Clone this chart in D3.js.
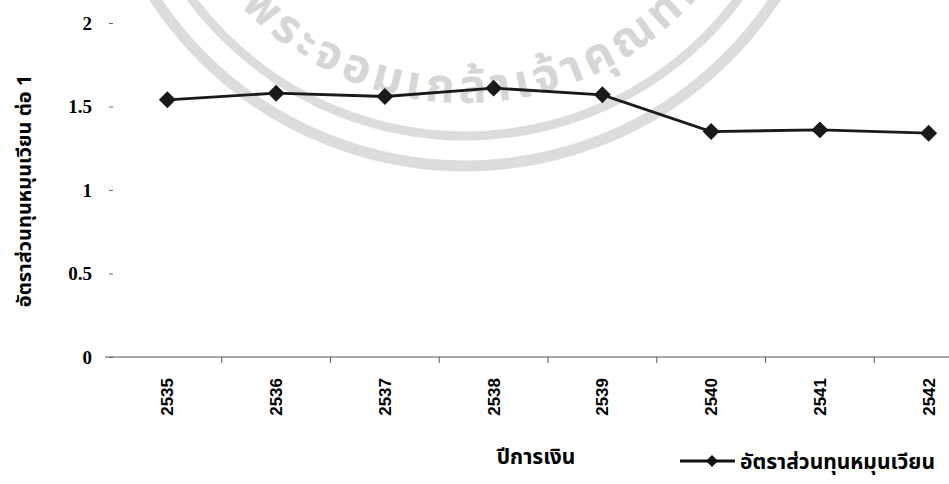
<!DOCTYPE html>
<html>
<head>
<meta charset="utf-8">
<script src="https://cdn.jsdelivr.net/npm/d3@7"></script>
<style>
 body { margin: 0; background: #fff; }
 svg { display: block; }
 .thai { font-family: "Noto Sans Thai", "Loma", "Garuda", "Tahoma", "DejaVu Sans", sans-serif; font-weight: bold; }
</style>
</head>
<body>
<div id="chart"></div>
<script>
// data
const years = ["2535", "2536", "2537", "2538", "2539", "2540", "2541", "2542"];
const ratio = [1.54, 1.58, 1.56, 1.61, 1.57, 1.35, 1.36, 1.34];
const yTicks = [0, 0.5, 1, 1.5, 2];
const seriesName = "อัตราส่วนทุนหมุนเวียน";
const yTitle = "อัตราส่วนทุนหมุนเวียน ต่อ 1";
const xTitle = "ปีการเงิน";
const sealText = "พระจอมเกล้าเจ้าคุณทหารลาดกระบัง";

const width = 949, height = 484;

const svg = d3.select("#chart").append("svg")
 .attr("width", width)
 .attr("height", height);

// faint seal watermark behind the plot
const wm = svg.append("g").attr("class", "watermark");
const cx = 465, cy = -205;
wm.append("circle").attr("cx", cx).attr("cy", cy).attr("r", 371)
 .attr("fill", "none").attr("stroke", "#dcdcdc").attr("stroke-width", 11);
wm.append("circle").attr("cx", cx).attr("cy", cy).attr("r", 341)
 .attr("fill", "none").attr("stroke", "#dcdcdc").attr("stroke-width", 9);
const tr = 308;
const a0 = Math.PI * 0.76, a1 = Math.PI * 0.05;
wm.append("path").attr("id", "wmArc").attr("fill", "none")
 .attr("d", `M${cx + tr * Math.cos(a0)},${cy + tr * Math.sin(a0)} A${tr},${tr} 0 0 0 ${cx + tr * Math.cos(a1)},${cy + tr * Math.sin(a1)}`);
wm.append("text").attr("class", "thai")
 .attr("fill", "#d6d6d6")
 .style("font-size", "47px")
 .style("letter-spacing", "5px")
 .append("textPath").attr("href", "#wmArc")
 .text(sealText);

// scales
const x = d3.scaleBand().domain(years).range([113, 983]).padding(0);
const y = d3.scaleLinear().domain([0, 2]).range([357, 23]);

// x axis line and ticks between categories
svg.append("line")
 .attr("x1", 105).attr("x2", width)
 .attr("y1", y(0)).attr("y2", y(0))
 .attr("stroke", "#555").attr("stroke-width", 1.2);

svg.append("g").selectAll("line")
 .data(years.slice(1))
 .join("line")
 .attr("x1", d => x(d)).attr("x2", d => x(d))
 .attr("y1", y(0)).attr("y2", y(0) + 6)
 .attr("stroke", "#555");

svg.append("g").selectAll("text")
 .data(years)
 .join("text")
 .attr("transform", d => `translate(${x(d) + x.bandwidth() / 2 + 6},378) rotate(-90)`)
 .attr("text-anchor", "end")
 .style("font-family", "'Liberation Sans', Arial, sans-serif")
 .style("font-weight", "bold")
 .style("font-size", "17px")
 .text(d => d);

// y axis: ticks + labels, no spine
const yAxis = svg.append("g")
 .attr("transform", "translate(113,0)")
 .call(d3.axisLeft(y).tickValues(yTicks).tickSize(4).tickPadding(17).tickFormat(d3.format("")));
yAxis.select(".domain").remove();
yAxis.selectAll(".tick line").attr("stroke", "#666");
yAxis.selectAll("text")
 .style("font-family", "'Liberation Serif', 'Times New Roman', serif")
 .style("font-weight", "bold")
 .style("font-size", "19px")
 .attr("fill", "#000");

// series
const line = d3.line()
 .x((d, i) => x(years[i]) + x.bandwidth() / 2)
 .y(d => y(d));

svg.append("path")
 .datum(ratio)
 .attr("fill", "none")
 .attr("stroke", "#1a1a1a")
 .attr("stroke-width", 2.8)
 .attr("d", line);

const diamond = d3.symbol(d3.symbolSquare, 144);
svg.append("g").selectAll("path")
 .data(ratio)
 .join("path")
 .attr("d", diamond)
 .attr("transform", (d, i) => `translate(${x(years[i]) + x.bandwidth() / 2},${y(d)}) rotate(45)`)
 .attr("fill", "#1a1a1a");

// axis titles
svg.append("text")
 .attr("class", "thai")
 .attr("transform", "translate(31,191) rotate(-90)")
 .attr("text-anchor", "middle")
 .style("font-size", "20px")
 .text(yTitle);

svg.append("text")
 .attr("class", "thai")
 .attr("x", 536).attr("y", 464)
 .attr("text-anchor", "middle")
 .style("font-size", "21px")
 .text(xTitle);

// legend
const lg = svg.append("g").attr("transform", "translate(680,461)");
lg.append("line").attr("x1", 0).attr("x2", 55)
 .attr("stroke", "#111").attr("stroke-width", 2.8);
lg.append("path").attr("d", d3.symbol(d3.symbolSquare, 72))
 .attr("transform", "translate(32,0) rotate(45)")
 .attr("fill", "#111");
lg.append("text").attr("class", "thai")
 .attr("x", 60).attr("y", 8)
 .style("font-size", "21px")
 .text(seriesName);
</script>
</body>
</html>
